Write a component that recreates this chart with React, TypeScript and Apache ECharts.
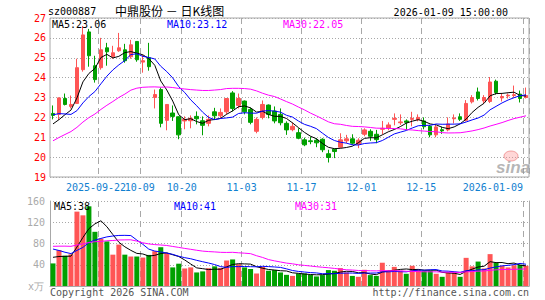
import React, { useEffect, useRef } from "react";
import * as echarts from "echarts";

const dates = [
  "2025-09-10","2025-09-11","2025-09-12","2025-09-15","2025-09-16","2025-09-17","2025-09-18","2025-09-19","2025-09-22","2025-09-23",
  "2025-09-24","2025-09-25","2025-09-26","2025-09-29","2025-09-30","2025-10-09","2025-10-10","2025-10-13","2025-10-14","2025-10-15",
  "2025-10-16","2025-10-17","2025-10-20","2025-10-21","2025-10-22","2025-10-23","2025-10-24","2025-10-27","2025-10-28","2025-10-29",
  "2025-10-30","2025-10-31","2025-11-03","2025-11-04","2025-11-05","2025-11-06","2025-11-07","2025-11-10","2025-11-11","2025-11-12",
  "2025-11-13","2025-11-14","2025-11-17","2025-11-18","2025-11-19","2025-11-20","2025-11-21","2025-11-24","2025-11-25","2025-11-26",
  "2025-11-27","2025-11-28","2025-12-01","2025-12-02","2025-12-03","2025-12-04","2025-12-05","2025-12-08","2025-12-09","2025-12-10",
  "2025-12-11","2025-12-12","2025-12-15","2025-12-16","2025-12-17","2025-12-18","2025-12-19","2025-12-22","2025-12-23","2025-12-24",
  "2025-12-25","2025-12-26","2025-12-29","2025-12-30","2025-12-31","2026-01-05","2026-01-06","2026-01-07","2026-01-08","2026-01-09",
];

const opens = [
  22.2, 22.15, 22.95, 22.55, 22.7, 24.4, 26.3, 24.6, 24.5, 25.5,
  25.05, 25.35, 25.4, 25.05, 25.82, 24.78, 25.0, 23.0, 23.4, 21.85,
  22.22, 22.03, 21.82, 21.83, 22.05, 21.83, 21.7, 22.28, 22.08, 22.28,
  23.23, 22.6, 22.82, 22.4, 21.3, 22.0, 22.62, 22.32, 22.15, 21.7,
  21.38, 21.23, 20.87, 20.82, 20.85, 20.9, 20.17, 20.4, 20.5, 20.82,
  20.92, 20.65, 21.15, 21.3, 21.15, 21.4, 21.45, 21.9, 21.73, 21.82,
  21.9, 21.88, 21.82, 21.55, 21.12, 21.38, 21.37, 21.93, 22.03, 21.85,
  22.78, 23.28, 22.83, 22.8, 23.82, 22.98, 23.08, 23.1, 23.17, 23.0,
];
const closes = [
  22.1, 22.98, 22.65, 22.65, 24.5, 26.15, 25.1, 23.9, 25.4, 25.3,
  25.25, 25.5, 24.85, 25.65, 24.9, 24.85, 24.55, 23.15, 21.7, 22.65,
  22.05, 21.12, 21.9, 21.95, 21.93, 21.6, 21.9, 22.08, 22.25, 22.95,
  22.45, 22.95, 22.28, 21.75, 21.9, 22.65, 22.15, 21.82, 21.73, 21.37,
  21.55, 20.95, 20.62, 20.78, 20.72, 20.37, 19.98, 20.28, 20.87, 20.92,
  20.7, 20.85, 21.37, 21.05, 20.88, 21.45, 21.62, 21.95, 21.77, 21.75,
  21.95, 22.0, 21.53, 21.12, 21.52, 21.32, 21.67, 21.97, 21.9, 22.7,
  23.0, 22.95, 23.0, 23.78, 23.25, 23.05, 23.12, 23.14, 22.95, 23.1,
];
const highs = [
  22.6, 23.0, 23.2, 23.1, 24.95, 26.6, 26.45, 25.1, 26.0, 25.75,
  25.6, 26.25, 25.7, 25.9, 25.82, 25.15, 25.75, 23.4, 23.5, 22.65,
  22.6, 22.05, 22.05, 22.1, 22.3, 22.05, 22.1, 22.48, 22.45, 22.97,
  23.32, 23.2, 22.85, 22.5, 22.0, 22.85, 22.65, 22.55, 22.45, 21.8,
  21.75, 21.45, 20.98, 21.03, 20.95, 20.95, 20.37, 20.42, 21.2, 21.12,
  21.15, 20.95, 21.45, 21.4, 21.37, 21.82, 21.75, 22.2, 22.15, 21.9,
  22.28, 22.15, 22.0, 21.62, 21.62, 21.53, 22.0, 22.15, 22.2, 22.87,
  23.12, 23.5, 23.12, 24.03, 23.9, 23.2, 23.2, 23.6, 23.35, 23.5,
];
const lows = [
  21.9, 21.87, 22.6, 22.45, 22.7, 24.3, 24.55, 23.75, 24.4, 24.6,
  24.95, 25.3, 24.75, 24.95, 24.8, 24.25, 24.35, 22.45, 21.5, 21.35,
  21.82, 20.9, 21.4, 21.45, 21.65, 21.1, 21.55, 21.87, 21.95, 22.15,
  22.3, 22.45, 22.15, 21.65, 21.2, 21.9, 21.95, 21.7, 21.6, 21.12,
  21.3, 20.9, 20.55, 20.65, 20.5, 20.25, 19.73, 19.95, 20.45, 20.7,
  20.62, 20.45, 21.05, 20.82, 20.7, 21.15, 21.35, 21.6, 21.62, 21.37,
  21.55, 21.8, 21.4, 21.0, 21.0, 21.17, 21.3, 21.7, 21.82, 21.8,
  22.7, 22.85, 22.7, 22.72, 23.15, 22.8, 22.95, 23.0, 22.75, 22.95,
];
const volumes = [
  42.5, 67.5, 57, 59.5, 140, 133, 150, 102, 89, 84,
  59, 78, 59, 55.5, 55.5, 53.5, 58.5, 65.5, 73, 62,
  35, 42, 33, 35, 25.5, 27.5, 33.5, 37, 34, 48,
  50, 41, 35, 32, 23.6, 36, 28.7, 30, 25.5, 21,
  19, 23.6, 23.6, 21, 18, 20.5, 30, 28.7, 33.7, 25.5,
  19, 17.3, 30.5, 20.5, 19, 43.8, 28.7, 36, 28.7, 23,
  38, 30.5, 28.7, 28.7, 23, 17.3, 25.5, 25.5, 17.3, 53,
  37, 46, 33, 60, 44, 38, 35, 39, 40, 38,
];
// sessions before the first visible candle (only feed the moving averages)
const priorCloses = [
  18.0, 18.1, 18.2, 18.1, 18.2, 18.4, 18.5, 18.45, 19.05, 19.5,
  19.4, 19.8, 19.7, 21.9, 23.5, 24.1, 23.0, 22.2, 22.3, 22.9,
  22.4, 22.8, 22.9, 22.6, 22.25, 21.9, 21.4, 21.5, 21.45,
];
const priorVolumes = [
  60, 55, 70, 65, 72, 68, 60, 69, 50, 45,
  48, 52, 50.5, 130, 150, 120, 105, 95, 90, 90.5,
  95, 90, 85, 80, 76, 60, 55, 58, 54.5,
];

const labelIdx = [15, 22, 32, 42, 52, 62];
const splitIdx = [8, 15, 22, 32, 42, 52, 62, 79];
const firstLabelIdx = 8;
const maPeriods = [5, 10, 30];
const priceMaLabels = ["MA5:23.06", "MA10:23.12", "MA30:22.05"];
const volMaLabels = ["MA5:38", "MA10:41", "MA30:31"];
const stockCode = "sz000887";
const stockTitle = "中鼎股份 － 日K线图";
const timeText = "15:00:00";

const RED = "#ff5555";
const GREEN = "#00a000";
const MA_COLORS = ["#000000", "#0000ff", "#ff00ff"];
const MONO = "DejaVu Sans Mono";
const GRIDC = "#a8a8a8";
const AXIS_BLUE = "#1080d0";

function movingAvg(prior: number[], vals: number[], n: number) {
  const all = prior.concat(vals);
  const off = prior.length;
  return vals.map((_, i) => {
    let s = 0;
    for (let k = off + i - n + 1; k <= off + i; k++) s += all[k];
    return +(s / n).toFixed(3);
  });
}

export default function App() {
  const ref = useRef<HTMLDivElement>(null);
  useEffect(() => {
    if (!ref.current) return;
    const chart = echarts.init(ref.current, undefined, { renderer: "svg" });
    const kData = dates.map((_, i) => [opens[i], closes[i], lows[i], highs[i]]);
    const volData = volumes.map((v, i) => ({
      value: v,
      itemStyle: { color: closes[i] >= opens[i] ? RED : GREEN },
    }));
    const priceMAs = maPeriods.map((n) => movingAvg(priorCloses, closes, n));
    const volMAs = maPeriods.map((n) => movingAvg(priorVolumes, volumes, n));

    const txt = (x: number, y: number, text: string, fill: string, extra: any = {}) => ({
      type: "text",
      x,
      y,
      silent: true,
      z: 100,
      style: {
        text,
        fill,
        font: `10px "${MONO}"`,
        textVerticalAlign: "middle",
        ...extra,
      },
    });

    const option: any = {
      animation: false,
      backgroundColor: "#ffffff",
      grid: [
        { left: 50, right: 16, top: 18, height: 159, show: true, borderColor: GRIDC, borderWidth: 1, backgroundColor: "transparent" },
        { left: 50, right: 16, top: 201, height: 85, show: false },
      ],
      xAxis: [
        {
          type: "category",
          gridIndex: 0,
          data: dates,
          boundaryGap: true,
          axisLine: { show: false },
          axisTick: { show: false },
          axisLabel: {
            interval: (i: number) => labelIdx.includes(i),
            formatter: (v: string) => v.slice(5),
            color: AXIS_BLUE,
            fontFamily: MONO,
            fontSize: 10,
            margin: 5,
            padding: [0, 6, 0, 0],
            hideOverlap: false,
          },
          splitLine: {
            show: true,
            interval: (i: number) => splitIdx.includes(i),
            lineStyle: { color: GRIDC, type: [6, 4], width: 1 },
          },
        },
        {
          type: "category",
          gridIndex: 1,
          data: dates,
          boundaryGap: true,
          position: "top",
          axisLine: { show: true, lineStyle: { color: GRIDC, width: 1 } },
          axisTick: { show: false },
          axisLabel: { show: false },
          splitLine: {
            show: true,
            interval: (i: number) => splitIdx.includes(i),
            lineStyle: { color: GRIDC, type: [6, 4], width: 1 },
          },
        },
      ],
      yAxis: [
        {
          type: "value",
          gridIndex: 0,
          min: 19,
          max: 27,
          interval: 1,
          axisLine: { show: false },
          axisTick: { show: false },
          axisLabel: { color: "#ff0000", fontFamily: MONO, fontSize: 10, margin: 4 },
          splitLine: { show: true, lineStyle: { color: GRIDC, type: [1, 2], width: 1 } },
        },
        {
          type: "value",
          gridIndex: 1,
          min: 0,
          max: 160,
          interval: 40,
          axisLine: { show: true, lineStyle: { color: GRIDC, width: 1 } },
          axisTick: { show: false },
          axisLabel: {
            color: "#aaaaaa",
            fontFamily: MONO,
            fontSize: 10,
            margin: 5,
            formatter: (v: number) => (v === 0 ? "" : String(v)),
          },
          splitLine: { show: true, lineStyle: { color: GRIDC, type: [1, 2], width: 1 } },
        },
        {
          type: "value",
          gridIndex: 1,
          position: "right",
          min: 0,
          max: 160,
          axisLine: { show: true, lineStyle: { color: GRIDC, width: 1 } },
          axisTick: { show: false },
          axisLabel: { show: false },
          splitLine: { show: false },
        },
      ],
      series: [
        {
          type: "candlestick",
          xAxisIndex: 0,
          yAxisIndex: 0,
          data: kData,
          barWidth: 4,
          itemStyle: {
            color: RED,
            color0: GREEN,
            borderColor: RED,
            borderColor0: GREEN,
            borderWidth: 1,
          },
        },
        ...priceMAs.map((d, k) => ({
          type: "line",
          xAxisIndex: 0,
          yAxisIndex: 0,
          data: d,
          showSymbol: false,
          symbol: "none",
          lineStyle: { color: MA_COLORS[k], width: 1 },
          z: 3,
        })),
        {
          type: "bar",
          xAxisIndex: 1,
          yAxisIndex: 1,
          data: volData,
          barWidth: 5,
        },
        ...volMAs.map((d, k) => ({
          type: "line",
          xAxisIndex: 1,
          yAxisIndex: 1,
          data: d,
          showSymbol: false,
          symbol: "none",
          lineStyle: { color: MA_COLORS[k], width: 1 },
          z: 3,
        })),
      ],
      graphic: [
        txt(48, 11, stockCode, "#000000"),
        {
          type: "text",
          x: 115,
          y: 10,
          z: 100,
          style: {
            text: stockTitle,
            fill: "#000000",
            font: '12px "Noto Sans CJK SC"',
            textVerticalAlign: "middle",
          },
        },
        txt(508, 12, `${dates[dates.length - 1]} ${timeText}`, "#000000", { textAlign: "right" }),
        txt(52, 24, priceMaLabels[0], MA_COLORS[0]),
        txt(167, 24, priceMaLabels[1], MA_COLORS[1]),
        txt(283, 24, priceMaLabels[2], MA_COLORS[2]),
        txt(54, 206, volMaLabels[0], MA_COLORS[0]),
        txt(174, 206, volMaLabels[1], MA_COLORS[1]),
        txt(295, 206, volMaLabels[2], MA_COLORS[2]),
        txt(96, 187, dates[firstLabelIdx], AXIS_BLUE, { textAlign: "center" }),
        txt(523, 187, dates[dates.length - 1], AXIS_BLUE, { textAlign: "right" }),
        txt(28, 286, "x万", "#aaaaaa"),
        txt(50, 292, "Copyright 2026 SINA.COM", "#555555"),
        txt(529, 292, "http://finance.sina.com.cn", "#555555", { textAlign: "right" }),
        {
          type: "ellipse",
          z: 90,
          silent: true,
          shape: { cx: 511, cy: 156, rx: 7, ry: 5 },
          style: { fill: "rgba(255,140,140,0.35)", stroke: "rgba(230,90,90,0.5)", lineWidth: 1 },
        },
        {
          type: "text",
          x: 496,
          y: 167,
          z: 90,
          silent: true,
          style: {
            text: "sina",
            fill: "rgba(150,150,150,0.7)",
            font: 'italic bold 17px "Liberation Sans"',
            textVerticalAlign: "middle",
          },
        },
      ],
    };
    chart.setOption(option);
    return () => chart.dispose();
  }, []);
  return (
    <div
      ref={ref}
      style={{ position: "fixed", left: 0, top: 0, width: 545, height: 300, background: "#fff" }}
    />
  );
}
